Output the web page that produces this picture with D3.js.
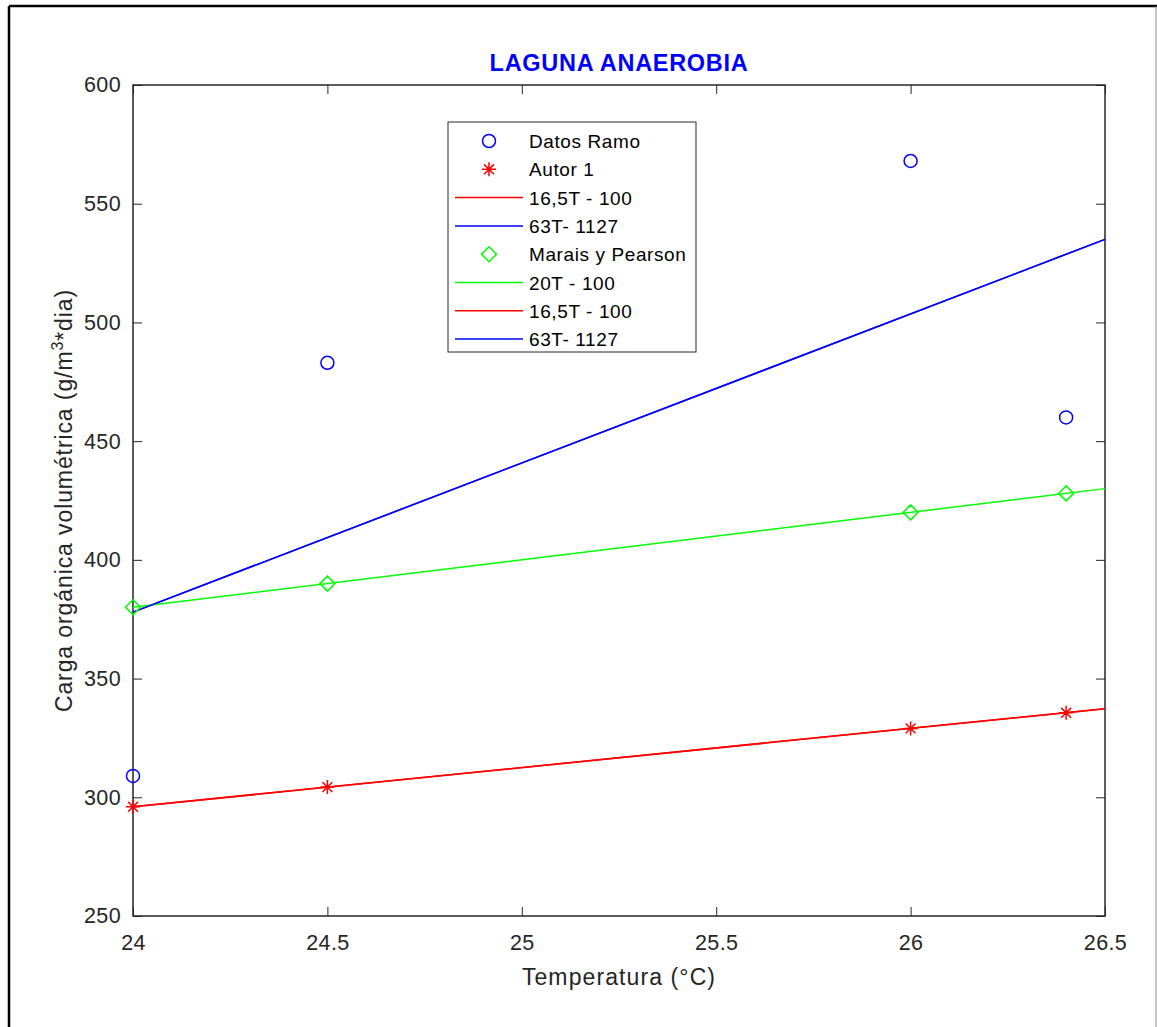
<!DOCTYPE html>
<html>
<head>
<meta charset="utf-8">
<script src="https://cdn.jsdelivr.net/npm/d3@7"></script>
<style>
  body { margin: 0; background: #fff; }
  svg { display: block; font-family: "Liberation Sans", Arial, sans-serif; }
</style>
</head>
<body>
<div id="chart"></div>
<script>
// ── Data ───────────────────────────────────────────────────────────────────
const temps = [24, 24.5, 26, 26.4];
const datosRamo = [309, 483, 568, 460];
const autor1 = [296, 304.3, 329, 335.6];
const maraisPearson = [380, 390, 420, 428];

// fitted lines, evaluated at the axis limits
const lineT = [24, 26.5];
const line165 = [296, 337.3];   // 16,5T - 100
const line63 = [378, 535];      // 63T- 1127
const line20 = [380, 430];      // 20T - 100

const xTicks = [24, 24.5, 25, 25.5, 26, 26.5];
const yTicks = [250, 300, 350, 400, 450, 500, 550, 600];

const legendItems = [
  { label: 'Datos Ramo', type: 'circle', color: '#0000ff' },
  { label: 'Autor 1', type: 'star', color: '#ff0000' },
  { label: '16,5T - 100', type: 'line', color: '#ff0000' },
  { label: '63T- 1127', type: 'line', color: '#0000ff' },
  { label: 'Marais y Pearson', type: 'diamond', color: '#00ff00' },
  { label: '20T - 100', type: 'line', color: '#00ff00' },
  { label: '16,5T - 100', type: 'line', color: '#ff0000' },
  { label: '63T- 1127', type: 'line', color: '#0000ff' },
];

// ── Dimensions ────────────────────────────────────────────────────────────
const W = 1157, H = 1027;
const margin = { top: 85, right: 52, bottom: 111, left: 133 };
const innerW = W - margin.left - margin.right;
const innerH = H - margin.top - margin.bottom;
const axisColor = '#262626';

const svg = d3.select('#chart').append('svg')
  .attr('width', W)
  .attr('height', H);

// outer frame (document border)
svg.append('line').attr('x1', 9).attr('x2', W).attr('y1', 6).attr('y2', 6)
  .attr('stroke', '#000').attr('stroke-width', 2.5);
svg.append('line').attr('x1', 9).attr('x2', 9).attr('y1', 6).attr('y2', H)
  .attr('stroke', '#000').attr('stroke-width', 2.5);
svg.append('line').attr('x1', 1156).attr('x2', 1156).attr('y1', 6).attr('y2', H)
  .attr('stroke', '#888').attr('stroke-width', 1);

const g = svg.append('g')
  .attr('transform', `translate(${margin.left},${margin.top})`);

// ── Scales ────────────────────────────────────────────────────────────────
const x = d3.scaleLinear().domain([24, 26.5]).range([0, innerW]);
const y = d3.scaleLinear().domain([250, 600]).range([innerH, 0]);

// ── Axes (MATLAB style: inward ticks on all sides) ───────────────────────
const tickLen = 9;
const styleAxis = ax => {
  ax.select('.domain').remove();
  ax.selectAll('line').attr('stroke', axisColor);
  ax.selectAll('text').attr('fill', axisColor)
    .style('font-size', '21.5px').style('letter-spacing', '0.4px');
};

g.append('g')
  .attr('transform', `translate(0,${innerH})`)
  .call(d3.axisBottom(x).tickValues(xTicks).tickSize(-tickLen).tickPadding(19).tickFormat(d3.format('')))
  .call(styleAxis);

g.append('g')
  .call(d3.axisTop(x).tickValues(xTicks).tickSize(-tickLen).tickFormat(''))
  .call(styleAxis);

g.append('g')
  .call(d3.axisLeft(y).tickValues(yTicks).tickSize(-tickLen).tickPadding(12))
  .call(styleAxis);

g.append('g')
  .attr('transform', `translate(${innerW},0)`)
  .call(d3.axisRight(y).tickValues(yTicks).tickSize(-tickLen).tickFormat(''))
  .call(styleAxis);

// box
g.append('rect')
  .attr('width', innerW).attr('height', innerH)
  .attr('fill', 'none').attr('stroke', axisColor).attr('stroke-width', 1.5);

// ── Lines ─────────────────────────────────────────────────────────────────
const line = d3.line().x(d => x(d[0])).y(d => y(d[1]));
const drawLine = (vals, color) => g.append('path')
  .datum(lineT.map((t, i) => [t, vals[i]]))
  .attr('fill', 'none').attr('stroke', color).attr('stroke-width', 1.5)
  .attr('d', line);

drawLine(line165, '#ff0000');
drawLine(line63, '#0000ff');
drawLine(line20, '#00ff00');
drawLine(line165, '#ff0000');
drawLine(line63, '#0000ff');

// ── Markers ───────────────────────────────────────────────────────────────
function marker(sel, type, color) {
  if (type === 'circle') {
    sel.append('circle').attr('r', 6.5)
      .attr('fill', 'none').attr('stroke', color).attr('stroke-width', 1.5);
  } else if (type === 'diamond') {
    const s = 7.5;
    sel.append('path').attr('d', `M0,${-s}L${s},0L0,${s}L${-s},0Z`)
      .attr('fill', 'none').attr('stroke', color).attr('stroke-width', 1.5);
  } else if (type === 'star') {
    const s = 7;
    const d = s * 0.7;
    sel.append('path')
      .attr('d', `M0,${-s}V${s}M${-s},0H${s}M${-d},${-d}L${d},${d}M${-d},${d}L${d},${-d}`)
      .attr('stroke', color).attr('stroke-width', 1.5);
  }
}

const series = [
  { vals: datosRamo, type: 'circle', color: '#0000ff' },
  { vals: autor1, type: 'star', color: '#ff0000' },
  { vals: maraisPearson, type: 'diamond', color: '#00ff00' },
];
series.forEach(s => {
  temps.forEach((t, i) => {
    const m = g.append('g').attr('transform', `translate(${x(t)},${y(s.vals[i])})`);
    marker(m, s.type, s.color);
  });
});

// ── Labels ────────────────────────────────────────────────────────────────
svg.append('text')
  .attr('x', margin.left + innerW / 2).attr('y', 71)
  .attr('text-anchor', 'middle')
  .attr('fill', '#0000ff').style('font-size', '23.5px').style('font-weight', 'bold')
  .style('letter-spacing', '0.7px')
  .text('LAGUNA ANAEROBIA');

svg.append('text')
  .attr('x', margin.left + innerW / 2).attr('y', 985)
  .attr('text-anchor', 'middle')
  .attr('fill', axisColor).style('font-size', '23px').style('letter-spacing', '1.1px')
  .text('Temperatura (°C)');

const yl = svg.append('text')
  .attr('transform', `translate(72,${margin.top + innerH / 2}) rotate(-90)`)
  .attr('text-anchor', 'middle')
  .attr('fill', axisColor).style('font-size', '23px').style('letter-spacing', '0.9px');
yl.append('tspan').text('Carga orgánica volumétrica (g/m');
yl.append('tspan').attr('dy', -9).style('font-size', '16px').text('3');
yl.append('tspan').attr('dy', 9).text('*dia)');

// ── Legend ────────────────────────────────────────────────────────────────
const lg = svg.append('g').attr('transform', 'translate(448,122)');
lg.append('rect').attr('width', 248).attr('height', 230)
  .attr('fill', '#fff').attr('stroke', axisColor).attr('stroke-width', 1);

legendItems.forEach((it, i) => {
  const row = lg.append('g').attr('transform', `translate(0,${19 + i * 28.3})`);
  if (it.type === 'line') {
    row.append('line').attr('x1', 7).attr('x2', 75)
      .attr('stroke', it.color).attr('stroke-width', 1.5);
  } else {
    const m = row.append('g').attr('transform', 'translate(41,0)');
    marker(m, it.type, it.color);
  }
  row.append('text').attr('x', 81).attr('y', 7)
    .attr('fill', '#000').style('font-size', '19px').style('letter-spacing', '0.6px')
    .text(it.label);
});
</script>
</body>
</html>
